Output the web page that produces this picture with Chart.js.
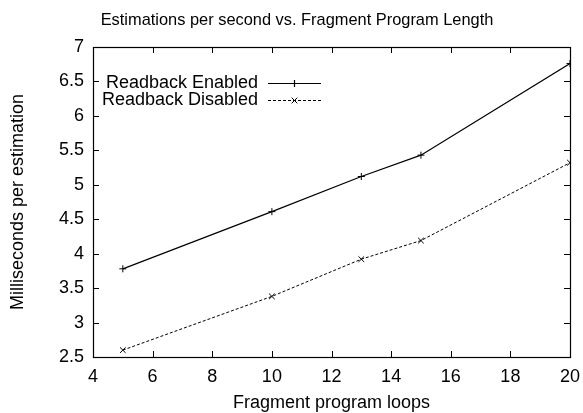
<!DOCTYPE html>
<html>
<head>
<meta charset="utf-8">
<script src="https://cdn.jsdelivr.net/npm/chart.js@4/dist/chart.umd.min.js"></script>
<style>
html, body { margin: 0; padding: 0; background: #fff; }
#wrap { width: 583px; height: 413px; }
</style>
</head>
<body>
<div id="wrap"><canvas id="grafico"></canvas></div>
<script>
// Datos
const loops = [5, 10, 13, 15, 20];
const readbackEnabled = [3.78, 4.61, 5.12, 5.43, 6.76];
const readbackDisabled = [2.60, 3.38, 3.92, 4.19, 5.32];
const xTicks = [4, 6, 8, 10, 12, 14, 16, 18, 20];
const yTicks = [2.5, 3, 3.5, 4, 4.5, 5, 5.5, 6, 6.5, 7];
const chartTitle = 'Estimations per second vs. Fragment Program Length';

Chart.defaults.font.family = '"Liberation Sans", Arial, sans-serif';
Chart.defaults.font.size = 18;
Chart.defaults.color = '#000';

// Título centrado como en gnuplot (algo desplazado a la derecha)
const tituloGnuplot = {
    id: 'tituloGnuplot',
    afterDraw(chart) {
        const { ctx } = chart;
        ctx.save();
        ctx.font = '16.4px "Liberation Sans", Arial, sans-serif';
        ctx.fillStyle = '#000';
        ctx.textAlign = 'center';
        ctx.textBaseline = 'middle';
        ctx.fillText(chartTitle, 297, 20);
        ctx.restore();
    }
};

// Marco y marcas hacia dentro, estilo gnuplot
const ticksInside = {
    id: 'ticksInside',
    afterDatasetsDraw(chart) {
        const { ctx, chartArea: a, scales: { x, y } } = chart;
        const len = 6;
        ctx.save();
        ctx.strokeStyle = '#000';
        ctx.lineWidth = 1;
        ctx.beginPath();
        x.ticks.forEach(t => {
            const px = Math.round(x.getPixelForValue(t.value)) + 0.5;
            ctx.moveTo(px, a.bottom); ctx.lineTo(px, a.bottom - len);
            ctx.moveTo(px, a.top); ctx.lineTo(px, a.top + len);
        });
        y.ticks.forEach(t => {
            const py = Math.round(y.getPixelForValue(t.value)) + 0.5;
            ctx.moveTo(a.left, py); ctx.lineTo(a.left + len, py);
            ctx.moveTo(a.right, py); ctx.lineTo(a.right - len, py);
        });
        ctx.stroke();
        ctx.lineWidth = 1.2;
        ctx.strokeRect(Math.round(a.left) + 0.5, Math.round(a.top) + 0.5,
            Math.round(a.width), Math.round(a.height));
        ctx.restore();
    }
};

// Leyenda: texto a la izquierda, muestra de línea a la derecha
const legendaGnuplot = {
    id: 'legendaGnuplot',
    afterDraw(chart) {
        const { ctx, chartArea: a } = chart;
        const textRight = a.left + 165;
        const lineStart = a.left + 175;
        const lineEnd = a.left + 228;
        ctx.save();
        ctx.font = '18px "Liberation Sans", Arial, sans-serif';
        ctx.fillStyle = '#000';
        ctx.textAlign = 'right';
        ctx.textBaseline = 'middle';
        chart.data.datasets.forEach((ds, i) => {
            const yy = a.top + 36 + i * 17;
            ctx.fillText(ds.label, textRight, yy);
            ctx.strokeStyle = ds.borderColor;
            ctx.lineWidth = ds.borderWidth;
            ctx.setLineDash(ds.borderDash || []);
            ctx.beginPath();
            ctx.moveTo(lineStart, yy + 0.5);
            ctx.lineTo(lineEnd, yy + 0.5);
            ctx.stroke();
            ctx.setLineDash([]);
            Chart.helpers.drawPoint(ctx, {
                pointStyle: ds.pointStyle,
                radius: ds.pointRadius,
                borderWidth: 1
            }, (lineStart + lineEnd) / 2, yy + 0.5);
        });
        ctx.restore();
    }
};

const config = {
    type: 'line',
    data: {
        datasets: [{
            label: 'Readback Enabled',
            data: loops.map((x, i) => ({ x, y: readbackEnabled[i] })),
            borderColor: '#000',
            backgroundColor: '#000',
            borderWidth: 1.2,
            pointStyle: 'cross',
            pointRadius: 3.5,
            pointBorderWidth: 1,
            tension: 0
        }, {
            label: 'Readback Disabled',
            data: loops.map((x, i) => ({ x, y: readbackDisabled[i] })),
            borderColor: '#000',
            backgroundColor: '#000',
            borderWidth: 1,
            borderDash: [3, 2],
            pointStyle: 'crossRot',
            pointRadius: 4,
            pointBorderWidth: 1,
            tension: 0
        }]
    },
    options: {
        responsive: true,
        maintainAspectRatio: false,
        animation: false,
        layout: { padding: { left: 0, right: 13, top: 47, bottom: 0 } },
        plugins: {
            legend: { display: false },
            tooltip: { enabled: false },
            title: { display: false }
        },
        scales: {
            x: {
                type: 'linear',
                min: 4,
                max: 20,
                afterBuildTicks: s => { s.ticks = xTicks.map(v => ({ value: v })); },
                afterFit: s => { s.height = 56; s.paddingRight = 0; },
                grid: { display: false, drawTicks: false },
                border: { display: false },
                ticks: { padding: 9, maxRotation: 0, autoSkip: false, color: '#000' },
                title: {
                    display: true,
                    text: 'Fragment program loops',
                    font: { size: 18, lineHeight: 1 },
                    padding: { top: 0, bottom: 1 },
                    color: '#000'
                }
            },
            y: {
                min: 2.5,
                max: 7,
                afterBuildTicks: s => { s.ticks = yTicks.map(v => ({ value: v })); },
                afterFit: s => { s.width = 93; s.paddingTop = 0; },
                grid: { display: false, drawTicks: false },
                border: { display: false },
                ticks: { padding: 9, autoSkip: false, color: '#000', callback: v => String(v) },
                title: {
                    display: true,
                    text: 'Milliseconds per estimation',
                    font: { size: 18, lineHeight: 1 },
                    padding: { top: 9, bottom: 0 },
                    color: '#000'
                }
            }
        }
    },
    plugins: [ticksInside, legendaGnuplot, tituloGnuplot]
};

const grafico = new Chart(document.getElementById('grafico'), config);
</script>
</body>
</html>
